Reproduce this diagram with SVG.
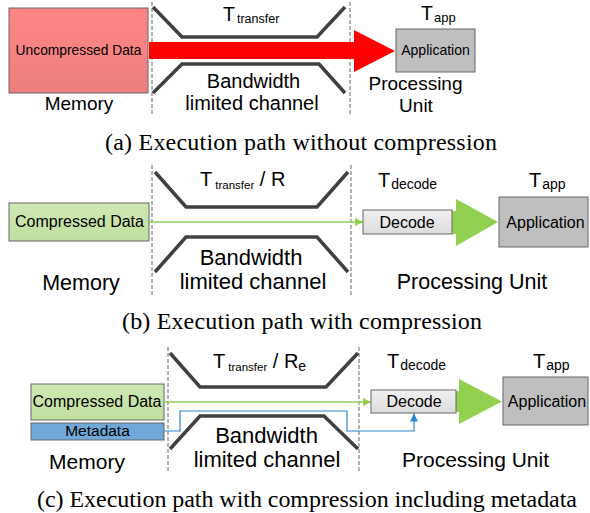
<svg xmlns="http://www.w3.org/2000/svg" width="590" height="513" viewBox="0 0 590 513">
<defs>
<linearGradient id="gRed" x1="0" y1="0" x2="0" y2="1"><stop offset="0" stop-color="#ff8585"/><stop offset="1" stop-color="#ee7f7f"/></linearGradient>
<linearGradient id="gGreen" x1="0" y1="0" x2="0" y2="1"><stop offset="0" stop-color="#cfe8b4"/><stop offset="1" stop-color="#c0df9e"/></linearGradient>
<linearGradient id="gGray" x1="0" y1="0" x2="0" y2="1"><stop offset="0" stop-color="#f0f0f0"/><stop offset="1" stop-color="#dcdcdc"/></linearGradient>
<marker id="aGreen" viewBox="0 0 10 10" refX="10" refY="5" markerWidth="10" markerHeight="8" markerUnits="userSpaceOnUse" orient="auto"><path d="M0,0 L10,5 L0,10 Z" fill="#92d050"/></marker>
<marker id="aBlue" viewBox="0 0 10 10" refX="10" refY="5" markerWidth="9" markerHeight="8" markerUnits="userSpaceOnUse" orient="auto"><path d="M0,0 L10,5 L0,10 Z" fill="#2e86cf"/></marker>
</defs>
<style>
.s{font-family:"Liberation Sans",Arial,sans-serif;fill:#000}
.c{font-family:"Liberation Serif","Times New Roman",serif;font-size:24px;fill:#000}
.m{text-anchor:middle}
.dash{stroke:#666;stroke-width:1;stroke-dasharray:4,2;fill:none}
.ch{stroke:#404040;stroke-width:3.5;fill:none}
.box{stroke:#666;stroke-width:1}
.app{fill:#bfbfbf;stroke:#666;stroke-width:1}
</style>

<!-- Panel (a) -->
<g id="a-dividers">
<line class="dash" x1="152" y1="2" x2="152" y2="114"/>
<line class="dash" x1="350" y1="2" x2="350" y2="114"/>
</g>
<g id="a-channel">
<polyline class="ch" points="153,7 182,37 317,37 345,7"/>
<polyline class="ch" points="153,93 182,64 319,64 345,93"/>
<text class="s" x="223" y="21" font-size="19.5">T<tspan font-size="12.5" dx="2" dy="2">transfer</tspan></text>
<text class="s m" x="253.5" y="88" font-size="20">Bandwidth</text>
<text class="s m" x="252" y="110" font-size="20">limited channel</text>
</g>
<g id="a-memory">
<rect class="box" x="9" y="8" width="139" height="85" fill="url(#gRed)"/>
<text class="s m" x="78.5" y="55" font-size="13.8">Uncompressed Data</text>
<text class="s m" x="79" y="110" font-size="19">Memory</text>
</g>
<g id="a-connectors">
<polygon points="149,42 354,42 354,30 395,51 354,72 354,59 149,59" fill="#ff0000"/>
</g>
<g id="a-application">
<rect class="app" x="396" y="29" width="79" height="43"/>
<text class="s m" x="435.5" y="55" font-size="14">Application</text>
<text class="s" x="421" y="20" font-size="19.5">T<tspan font-size="13" dx="1" dy="2">app</tspan></text>
<text class="s m" x="415.5" y="90" font-size="19">Processing</text>
<text class="s m" x="416" y="112" font-size="19">Unit</text>
</g>
<text class="c" x="105" y="150" textLength="392">(a) Execution path without compression</text>

<!-- Panel (b) -->
<g id="b-dividers">
<line class="dash" x1="152" y1="165" x2="152" y2="296"/>
<line class="dash" x1="351" y1="165" x2="351" y2="296"/>
</g>
<g id="b-channel">
<polyline class="ch" points="155,172 186,207 317,207 348,172"/>
<polyline class="ch" points="155,272 186,237 317,237 348,272"/>
<text class="s" x="200" y="186" font-size="20">T<tspan font-size="11.5" dx="3" dy="3">transfer</tspan><tspan dy="-3"> / R</tspan></text>
<text class="s m" x="251" y="265" font-size="22">Bandwidth</text>
<text class="s m" x="253" y="289" font-size="22">limited channel</text>
</g>
<g id="b-memory">
<rect class="box" x="9" y="203" width="140" height="38" fill="url(#gGreen)"/>
<text class="s m" x="79.5" y="227" font-size="16">Compressed Data</text>
<text class="s m" x="81" y="290" font-size="21.5">Memory</text>
</g>
<g id="b-connectors">
<line x1="149" y1="222" x2="363" y2="222" stroke="#92d050" stroke-width="1.5" marker-end="url(#aGreen)"/>
<polygon points="452,211 456,211 456,199 498,222 456,246 456,234 452,234" fill="#92d050"/>
</g>
<g id="b-decode">
<rect class="box" x="363" y="210" width="89" height="24" fill="url(#gGray)"/>
<text class="s m" x="407" y="228" font-size="16">Decode</text>
<text class="s" x="378" y="187" font-size="20">T<tspan font-size="14" dx="1" dy="2">decode</tspan></text>
</g>
<g id="b-application">
<rect class="app" x="499" y="197" width="89" height="50"/>
<text class="s m" x="545.5" y="228" font-size="16">Application</text>
<text class="s" x="529" y="187" font-size="20">T<tspan font-size="14" dx="1" dy="2">app</tspan></text>
<text class="s m" x="472" y="289" font-size="21.5">Processing Unit</text>
</g>
<text class="c" x="122" y="329" textLength="360">(b) Execution path with compression</text>

<!-- Panel (c) -->
<g id="c-dividers">
<line class="dash" x1="168" y1="347" x2="168" y2="473"/>
<line class="dash" x1="359" y1="347" x2="359" y2="473"/>
</g>
<g id="c-channel">
<polyline class="ch" points="170,353 200,387 326,387 358,353"/>
<polyline class="ch" points="170,449 200,416 324,416 358,449"/>
<text class="s" x="213" y="368" font-size="20">T<tspan font-size="11.5" dx="3" dy="3">transfer</tspan><tspan dy="-3"> / R</tspan><tspan font-size="14" dy="3">e</tspan></text>
<text class="s m" x="266.5" y="443" font-size="22">Bandwidth</text>
<text class="s m" x="267" y="467" font-size="22">limited channel</text>
</g>
<g id="c-memory">
<rect class="box" x="31" y="384" width="133" height="36" fill="url(#gGreen)"/>
<text class="s m" x="97" y="407" font-size="16">Compressed Data</text>
<rect class="box" x="31" y="423" width="133" height="17" fill="#6fa8d9"/>
<text class="s m" x="97.5" y="436" font-size="15.5">Metadata</text>
<text class="s m" x="87" y="469" font-size="21">Memory</text>
</g>
<g id="c-connectors">
<line x1="164" y1="402" x2="371" y2="402" stroke="#92d050" stroke-width="1.5" marker-end="url(#aGreen)"/>
<polyline points="164,431 180,431 180,411 347,411 347,431 414,431 414,413.5" fill="none" stroke="#2e86cf" stroke-width="1.2" marker-end="url(#aBlue)"/>
<polygon points="456,391 459,391 459,379 502,401.5 459,424 459,412 456,412" fill="#92d050"/>
</g>
<g id="c-decode">
<rect class="box" x="371" y="390" width="85" height="23" fill="url(#gGray)"/>
<text class="s m" x="414" y="407" font-size="16">Decode</text>
<text class="s" x="387" y="368" font-size="20">T<tspan font-size="14" dx="1" dy="2">decode</tspan></text>
</g>
<g id="c-application">
<rect class="app" x="503" y="377" width="85" height="48"/>
<text class="s m" x="547" y="407" font-size="16">Application</text>
<text class="s" x="533" y="368" font-size="20">T<tspan font-size="14" dx="1" dy="2">app</tspan></text>
<text class="s m" x="475.5" y="467" font-size="21">Processing Unit</text>
</g>
<text class="c" x="37" y="507" textLength="540">(c) Execution path with compression including metadata</text>
</svg>
